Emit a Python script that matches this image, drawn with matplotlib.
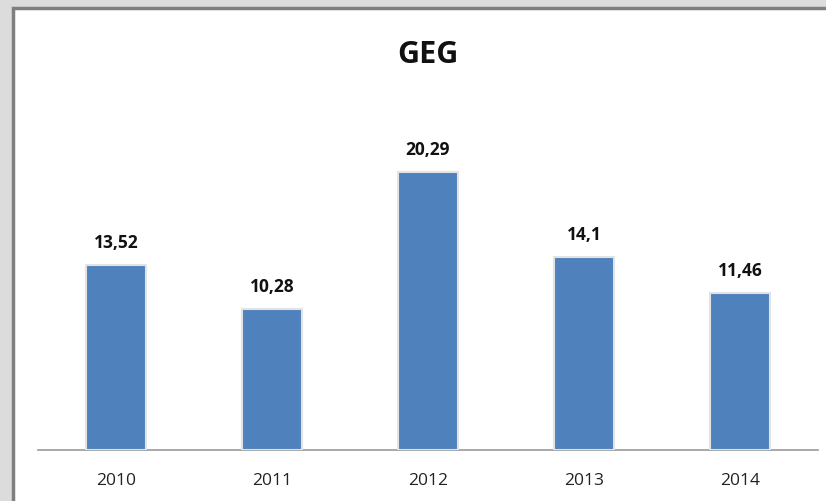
import matplotlib.pyplot as plt
from matplotlib.patches import Rectangle

# data
years = ["2010", "2011", "2012", "2013", "2014"]
values = [13.52, 10.28, 20.29, 14.1, 11.46]
labels = ["13,52", "10,28", "20,29", "14,1", "11,46"]

W, H = 826, 502
fig = plt.figure(figsize=(W / 100, H / 100), dpi=100)
fig.patch.set_facecolor("#dcdcdc")

# white chart panel with dark border on top/left (runs off right/bottom)
panel = Rectangle((13 / W, -0.05), 1, 1.05 - 9 / H, transform=fig.transFigure,
                  facecolor="white", edgecolor="#7f7f7f", linewidth=2.5,
                  zorder=-5)
fig.patches.append(panel)

ymax = 25
ax = fig.add_axes([38 / W, 51 / H, 780 / W, ymax * 13.7 / H])
ax.set_zorder(2)
ax.set_facecolor("none")

x = range(len(years))
ax.bar(x, values, width=0.39, color="#4f81bd", edgecolor="#e3e3e3",
       linewidth=1.5, zorder=3)

for i, (v, lab) in enumerate(zip(values, labels)):
    ax.annotate(lab, (i, v), xytext=(0, 10), textcoords="offset points",
                ha="center", va="bottom", fontsize=12.5, fontweight="bold",
                family="Open Sans", color="#111111")

ax.set_xlim(-0.5, 4.5)
ax.set_ylim(0, ymax)
ax.set_xticks(list(x))
ax.set_xticklabels(years, fontsize=12.5, family="Open Sans", color="#222222")
ax.tick_params(axis="x", length=0, pad=16)
ax.set_yticks([])
for s in ["top", "right", "left"]:
    ax.spines[s].set_visible(False)
ax.spines["bottom"].set_color("#9a9a9a")
ax.spines["bottom"].set_linewidth(1.2)

fig.text(428 / W, 1 - 55 / H, "GEG", ha="center", va="center",
         fontsize=22, fontweight="bold", family="Open Sans", color="#111111")

fig.savefig("out.png", dpi=100, facecolor=fig.get_facecolor())
